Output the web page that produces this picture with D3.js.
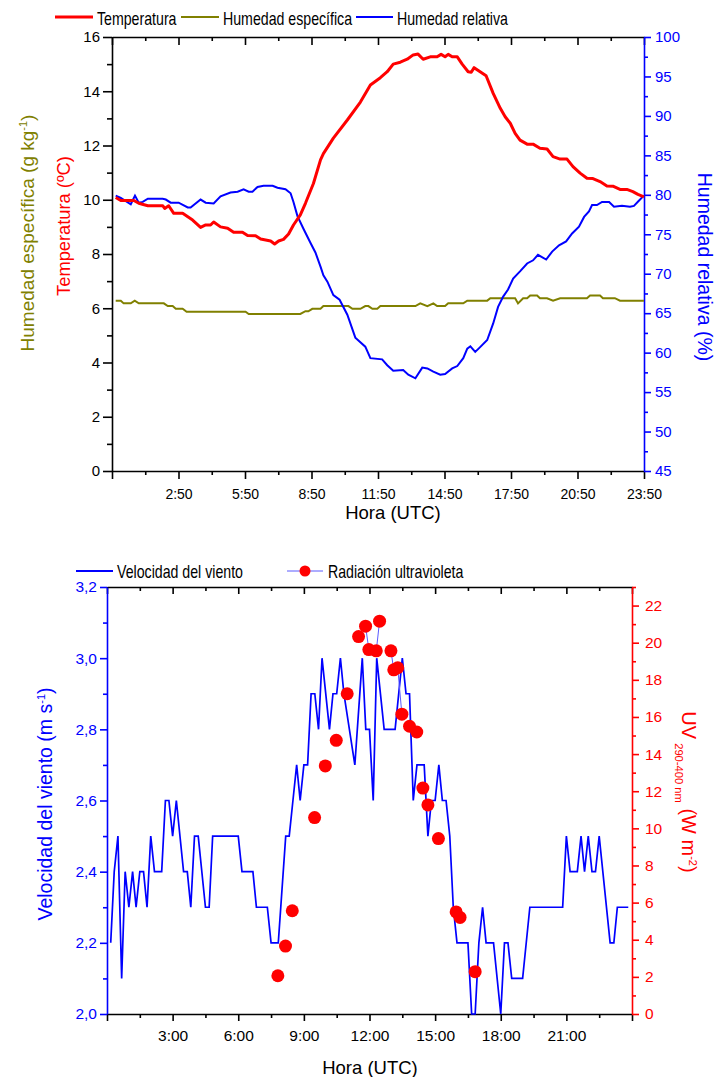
<!DOCTYPE html>
<html><head><meta charset="utf-8">
<script src="https://cdn.jsdelivr.net/npm/d3@7"></script>
<style>body{margin:0;background:#fff}svg{display:block}</style>
</head><body><svg id="c" width="717" height="1077"></svg>
<script>
// ---------- DATA (hours UTC, values) ----------
const tempHours = [0,0.23,0.82,1.04,1.45,2.12,2.21,2.39,2.62,3.02,3.47,3.83,4.06,4.28,4.42,4.73,5.05,5.32,5.72,5.95,6.31,6.54,6.99,7.17,7.35,7.57,7.8,8.02,8.33,8.56,8.92,9.24,9.37,9.82,10.45,11.04,11.49,11.94,12.25,12.52,12.84,13.15,13.42,13.64,13.87,14.19,14.5,14.68,14.86,15,15.18,15.41,15.63,15.9,16.04,16.17,16.44,16.71,17.03,17.35,17.57,17.8,18.02,18.24,18.56,18.83,19.14,19.46,19.73,20.05,20.36,20.63,20.95,21.26,21.53,21.85,22.16,22.43,22.75,23.06,23.33,23.56,23.83];
const tempValues = [10.08,9.97,9.97,9.87,9.78,9.78,9.68,9.78,9.5,9.5,9.25,8.98,9.07,9.07,9.18,9.0,8.95,8.8,8.8,8.68,8.67,8.55,8.48,8.37,8.48,8.54,8.74,9.07,9.44,9.87,10.6,11.47,11.7,12.27,12.94,13.6,14.23,14.5,14.72,15.0,15.07,15.18,15.34,15.37,15.18,15.27,15.27,15.36,15.27,15.36,15.27,15.27,15.0,14.72,14.7,14.87,14.72,14.57,13.92,13.37,13.06,12.82,12.45,12.2,12.05,12.05,11.9,11.87,11.59,11.5,11.5,11.22,10.98,10.79,10.78,10.67,10.51,10.5,10.38,10.38,10.3,10.2,10.11];

const shHours = [0,0.23,0.36,0.68,0.86,1.04,2.17,2.35,2.57,2.71,3.02,3.2,5.86,6.0,8.33,8.56,8.69,8.87,9.24,9.37,10.5,10.68,11.04,11.26,11.4,11.58,11.8,11.94,13.52,13.74,14.06,14.33,14.5,14.86,15.0,15.68,15.86,16.76,16.9,18.02,18.15,18.38,18.56,18.7,19.01,19.14,19.46,19.73,20.05,21.26,21.4,21.85,21.98,22.52,22.75,23.83];
const shValues = [6.28,6.28,6.18,6.18,6.28,6.18,6.18,6.08,6.08,5.98,5.98,5.87,5.87,5.79,5.79,5.89,5.89,5.98,5.98,6.08,6.08,5.98,5.98,6.08,6.08,5.98,5.98,6.08,6.08,6.18,6.08,6.18,6.08,6.08,6.18,6.18,6.28,6.28,6.37,6.37,6.18,6.37,6.37,6.47,6.47,6.37,6.37,6.28,6.37,6.37,6.47,6.47,6.37,6.37,6.28,6.28];

const rhHours = [0,0.23,0.68,0.87,1.04,1.22,1.45,2.12,2.26,2.48,2.84,3.25,3.38,3.83,4.06,4.42,4.73,5.18,5.5,5.77,6.0,6.17,6.4,6.67,7.08,7.3,7.66,7.89,8.02,8.2,8.47,8.79,9.01,9.24,9.37,9.55,9.82,10.1,10.45,10.81,11.26,11.49,12.02,12.25,12.52,12.97,13.2,13.52,13.83,14.06,14.33,14.64,14.86,15.18,15.41,15.68,15.86,16.0,16.22,16.44,16.76,17.03,17.25,17.48,17.7,17.93,18.24,18.56,18.83,19.05,19.42,19.69,20.0,20.32,20.59,20.9,21.13,21.35,21.49,21.71,21.94,22.26,22.48,22.84,23.2,23.38,23.6,23.83];
const rhValues = [79.9,79.6,78.8,79.9,79.0,79.1,79.5,79.5,79.4,79.0,79.0,78.4,78.4,79.4,79.0,78.9,79.8,80.3,80.4,80.7,80.4,80.4,81.0,81.15,81.15,80.9,80.7,80.2,79.1,77.3,75.7,73.9,72.7,70.9,69.8,69.0,67.3,66.7,64.8,61.9,60.75,59.3,59.15,58.4,57.7,57.8,57.2,56.75,58.1,58.0,57.6,57.2,57.3,58.0,58.3,59.3,60.5,60.8,60.1,60.7,61.6,63.7,65.8,67.1,68.0,69.4,70.3,71.3,71.7,72.4,71.8,72.8,73.6,74.1,75.1,75.96,77.2,77.9,78.7,78.7,79.1,79.1,78.5,78.6,78.5,78.6,79.25,79.9];

const windHours = [0.17,0.33,0.5,0.67,0.83,1.0,1.17,1.33,1.5,1.67,1.83,2.0,2.17,2.5,2.67,2.83,3.0,3.17,3.5,3.67,3.83,4.0,4.17,4.5,4.67,4.83,6.0,6.17,6.67,6.83,7.33,7.5,7.83,8.17,8.33,8.5,8.67,8.83,9.0,9.17,9.33,9.5,9.67,9.83,10.17,10.33,10.5,10.67,10.83,11.33,11.67,11.83,12.0,12.17,12.33,12.67,13.17,13.5,13.67,13.83,14.0,14.17,14.5,14.67,14.83,15.0,15.17,15.33,15.5,15.67,15.83,16.0,16.5,16.67,16.83,17.0,17.17,17.33,17.67,18.0,18.17,18.33,18.5,19.0,19.33,20.83,21.0,21.17,21.5,21.67,21.83,22.0,22.17,22.33,22.5,23.0,23.17,23.33,23.83];
const windValues = [2.2,2.4,2.5,2.1,2.4,2.3,2.4,2.3,2.4,2.4,2.3,2.5,2.4,2.4,2.6,2.6,2.5,2.6,2.4,2.4,2.3,2.5,2.5,2.3,2.3,2.5,2.5,2.4,2.4,2.3,2.3,2.2,2.2,2.5,2.5,2.6,2.7,2.6,2.7,2.7,2.9,2.9,2.8,3.0,2.8,2.9,2.9,3.0,2.9,2.7,3.0,2.8,2.8,2.6,3.0,2.8,2.8,3.0,2.9,2.9,2.6,2.7,2.7,2.5,2.6,2.6,2.7,2.6,2.6,2.5,2.3,2.2,2.2,2.0,2.0,2.2,2.3,2.2,2.2,2.0,2.2,2.2,2.1,2.1,2.3,2.3,2.5,2.4,2.4,2.5,2.4,2.5,2.4,2.4,2.5,2.2,2.2,2.3,2.3];

const uvHours = [7.81,8.16,8.47,9.49,9.98,10.48,10.98,11.5,11.82,11.97,12.31,12.46,12.98,13.11,13.29,13.48,13.83,14.16,14.44,14.67,15.15,15.96,16.14,16.83];
const uvValues = [2.06,3.66,5.56,10.58,13.36,14.74,17.25,20.33,20.89,19.63,19.56,21.16,19.56,18.54,18.65,16.15,15.5,15.19,12.17,11.26,9.45,5.5,5.2,2.28];

// tick values / labels
const topYLeftTicks = [0,2,4,6,8,10,12,14,16];
const topYRightTicks = [45,50,55,60,65,70,75,80,85,90,95,100];
const botYLeftTicks = [2.0,2.2,2.4,2.6,2.8,3.0,3.2];
const botYRightTicks = [0,2,4,6,8,10,12,14,16,18,20,22];
const botXTicks = [0,3,6,9,12,15,18,21,24];

// ---------- DRAWING ----------
const FONT = '"Liberation Sans", Arial, sans-serif';
const RED = "#ff0000", BLUE = "#0000ff", OLIVE = "#808000", BLACK = "#000";
const svg = d3.select("#c").attr("font-family", FONT);

function drawAxis(g, axis, color, size) {
  g.call(axis);
  g.attr("font-family", FONT).attr("font-size", size);
  g.select(".domain").attr("stroke", color).attr("stroke-width", 1.6);
  g.selectAll(".tick line").attr("stroke", color).attr("stroke-width", 1.6);
  g.selectAll(".tick text").attr("fill", color);
  return g;
}
function minor(g, axis, color) {
  g.call(axis.tickFormat(() => ""));
  g.select(".domain").remove();
  g.selectAll(".tick line").attr("stroke", color).attr("stroke-width", 1.6);
}
function hm(t) {
  const m = Math.round(t * 60);
  return Math.floor(m / 60) + ":" + String(m % 60).padStart(2, "0");
}

// ===== TOP CHART =====
const T = {l:112, r:644, t:37, b:471};
const xT = d3.scaleLinear().domain([-1/6, 23 + 5/6]).range([T.l, T.r]);
const yT = d3.scaleLinear().domain([0, 16]).range([T.b, T.t]);
const yRH = d3.scaleLinear().domain([45, 100]).range([T.b, T.t]);
const topXMajor = d3.range(9).map(k => -1/6 + 3 * k);
const topXMinor = d3.range(8).map(k => -1/6 + 1.5 + 3 * k);

drawAxis(svg.append("g").attr("transform", `translate(0,${T.b})`),
  d3.axisBottom(xT).tickValues(topXMajor).tickSize(8).tickSizeOuter(0).tickPadding(10)
    .tickFormat(t => t < 0 ? "" : hm(t)), BLACK, 14);
minor(svg.append("g").attr("transform", `translate(0,${T.b})`),
  d3.axisBottom(xT).tickValues(topXMinor).tickSize(4), BLACK);
drawAxis(svg.append("g").attr("transform", `translate(0,${T.t})`),
  d3.axisBottom(xT).tickValues(topXMajor).tickSize(8).tickSizeOuter(0).tickFormat(() => ""), BLACK, 14);
minor(svg.append("g").attr("transform", `translate(0,${T.t})`),
  d3.axisBottom(xT).tickValues(topXMinor).tickSize(4), BLACK);
drawAxis(svg.append("g").attr("transform", `translate(${T.l},0)`),
  d3.axisLeft(yT).tickValues(topYLeftTicks).tickSize(9).tickSizeOuter(0).tickPadding(3), BLACK, 15);
minor(svg.append("g").attr("transform", `translate(${T.l},0)`),
  d3.axisLeft(yT).tickValues(d3.range(1, 16, 2)).tickSize(5), BLACK);
drawAxis(svg.append("g").attr("transform", `translate(${T.r},0)`),
  d3.axisRight(yRH).tickValues(topYRightTicks).tickSize(7).tickSizeOuter(0).tickPadding(4), BLUE, 15);
minor(svg.append("g").attr("transform", `translate(${T.r},0)`),
  d3.axisRight(yRH).tickValues(d3.range(47.5, 100, 5)).tickSize(4), BLUE);

const lineTemp = d3.line().x(d => xT(d[0])).y(d => yT(d[1]));
const lineRH = d3.line().x(d => xT(d[0])).y(d => yRH(d[1]));
svg.append("path").datum(d3.zip(shHours, shValues)).attr("d", lineTemp)
  .attr("fill", "none").attr("stroke", OLIVE).attr("stroke-width", 2);
svg.append("path").datum(d3.zip(rhHours, rhValues)).attr("d", lineRH)
  .attr("fill", "none").attr("stroke", BLUE).attr("stroke-width", 2);
svg.append("path").datum(d3.zip(tempHours, tempValues)).attr("d", lineTemp)
  .attr("fill", "none").attr("stroke", RED).attr("stroke-width", 3).attr("stroke-linejoin", "round");

// top legend
function legendItem(x1, x2, y, color, w, label, tx) {
  svg.append("line").attr("x1", x1).attr("x2", x2).attr("y1", y).attr("y2", y)
    .attr("stroke", color).attr("stroke-width", w);
  svg.append("text").attr("transform", `translate(${tx},${y + 8}) scale(0.81,1)`)
    .attr("font-size", 17.5).attr("fill", BLACK).text(label);
}
legendItem(55, 93, 17, RED, 3, "Temperatura", 97);
legendItem(181, 219, 17, OLIVE, 2, "Humedad específica", 223);
legendItem(356, 393, 17, BLUE, 2, "Humedad relativa", 397);

// top axis titles
svg.append("text").attr("x", 393).attr("y", 519).attr("text-anchor", "middle")
  .attr("font-size", 18.5).text("Hora (UTC)");
svg.append("text").attr("transform", "translate(70,226) rotate(-90)").attr("text-anchor", "middle")
  .attr("font-size", 18.3).attr("fill", RED).text("Temperatura (ºC)");
{
  const t = svg.append("text").attr("transform", "translate(34,233) rotate(-90)")
    .attr("text-anchor", "middle").attr("font-size", 19).attr("fill", OLIVE);
  t.append("tspan").text("Humedad específica (g kg");
  t.append("tspan").attr("dy", -7).attr("font-size", 11).text("-1");
  t.append("tspan").attr("dy", 7).text(")");
}
svg.append("text").attr("transform", "translate(698,267) rotate(90)").attr("text-anchor", "middle")
  .attr("font-size", 19.5).attr("fill", BLUE).text("Humedad relativa (%)");

// ===== BOTTOM CHART =====
const B = {l:107, r:632, t:587, b:1014};
const xB = d3.scaleLinear().domain([0, 24]).range([B.l, B.r]);
const yW = d3.scaleLinear().domain([2.0, 3.2]).range([B.b, B.t]);
const yUV = d3.scaleLinear().domain([0, 23]).range([B.b, B.t]);
const botXMinor = d3.range(8).map(k => 1.5 + 3 * k);

drawAxis(svg.append("g").attr("transform", `translate(0,${B.b})`),
  d3.axisBottom(xB).tickValues(botXTicks).tickSize(7).tickSizeOuter(0).tickPadding(9)
    .tickFormat(h => (h === 0 || h === 24) ? "" : h + ":00"), BLACK, 15.5);
minor(svg.append("g").attr("transform", `translate(0,${B.b})`),
  d3.axisBottom(xB).tickValues(botXMinor).tickSize(4), BLACK);
drawAxis(svg.append("g").attr("transform", `translate(0,${B.t})`),
  d3.axisBottom(xB).tickValues(botXTicks).tickSize(7).tickSizeOuter(0).tickFormat(() => ""), BLACK, 15);
minor(svg.append("g").attr("transform", `translate(0,${B.t})`),
  d3.axisBottom(xB).tickValues(botXMinor).tickSize(4), BLACK);
drawAxis(svg.append("g").attr("transform", `translate(${B.l},0)`),
  d3.axisLeft(yW).tickValues(botYLeftTicks).tickSize(7).tickSizeOuter(0).tickPadding(3)
    .tickFormat(d => d.toFixed(1).replace(".", ",")), BLUE, 15.5);
minor(svg.append("g").attr("transform", `translate(${B.l},0)`),
  d3.axisLeft(yW).tickValues(d3.range(6).map(i => 2.1 + 0.2 * i)).tickSize(4), BLUE);
drawAxis(svg.append("g").attr("transform", `translate(${B.r},0)`),
  d3.axisRight(yUV).tickValues(botYRightTicks).tickSize(7).tickSizeOuter(0).tickPadding(6), RED, 15.5);
minor(svg.append("g").attr("transform", `translate(${B.r},0)`),
  d3.axisRight(yUV).tickValues(d3.range(1, 24, 2)).tickSize(4), RED);

svg.append("path").datum(d3.zip(windHours, windValues))
  .attr("d", d3.line().x(d => xB(d[0])).y(d => yW(d[1])))
  .attr("fill", "none").attr("stroke", BLUE).attr("stroke-width", 1.7);

// thin connector between UV samples 10 min apart
const uvPts = d3.zip(uvHours, uvValues);
const uvLine = d3.line().x(d => xB(d[0])).y(d => yUV(d[1]));
uvPts.forEach((p, i) => {
  if (i > 0 && p[0] - uvPts[i - 1][0] < 0.2) {
    svg.append("path").datum([uvPts[i - 1], p]).attr("d", uvLine)
      .attr("fill", "none").attr("stroke", "#5a5aff").attr("stroke-width", 1);
  }
});
svg.append("g").selectAll("circle").data(uvPts).join("circle")
  .attr("cx", d => xB(d[0])).attr("cy", d => yUV(d[1])).attr("r", 6.5).attr("fill", RED);

// bottom legend
svg.append("line").attr("x1", 76).attr("x2", 113).attr("y1", 571).attr("y2", 571)
  .attr("stroke", BLUE).attr("stroke-width", 2);
svg.append("text").attr("transform", "translate(117,578) scale(0.81,1)")
  .attr("font-size", 17.5).text("Velocidad del viento");
svg.append("line").attr("x1", 287).attr("x2", 323).attr("y1", 571).attr("y2", 571)
  .attr("stroke", "#5a5aff").attr("stroke-width", 1);
svg.append("circle").attr("cx", 305).attr("cy", 571).attr("r", 5.5).attr("fill", RED);
svg.append("text").attr("transform", "translate(328,578) scale(0.81,1)")
  .attr("font-size", 17.5).text("Radiación ultravioleta");

// bottom titles
svg.append("text").attr("x", 370).attr("y", 1074).attr("text-anchor", "middle")
  .attr("font-size", 18.5).text("Hora (UTC)");
{
  const t = svg.append("text").attr("transform", "translate(52,804) rotate(-90)")
    .attr("text-anchor", "middle").attr("font-size", 19.5).attr("fill", BLUE);
  t.append("tspan").text("Velocidad del viento (m s");
  t.append("tspan").attr("dy", -7).attr("font-size", 11).text("-1");
  t.append("tspan").attr("dy", 7).text(")");
}
{
  const t = svg.append("text").attr("transform", "translate(682,792) rotate(90)")
    .attr("text-anchor", "middle").attr("font-size", 20).attr("fill", RED);
  t.append("tspan").text("UV");
  t.append("tspan").attr("dx", 4).attr("dy", 7).attr("font-size", 11.2).text("290-400 nm");
  t.append("tspan").attr("dy", -7).text(" (W m");
  t.append("tspan").attr("dy", -7).attr("font-size", 11).text("-2");
  t.append("tspan").attr("dy", 7).text(")");
}
</script></body></html>
